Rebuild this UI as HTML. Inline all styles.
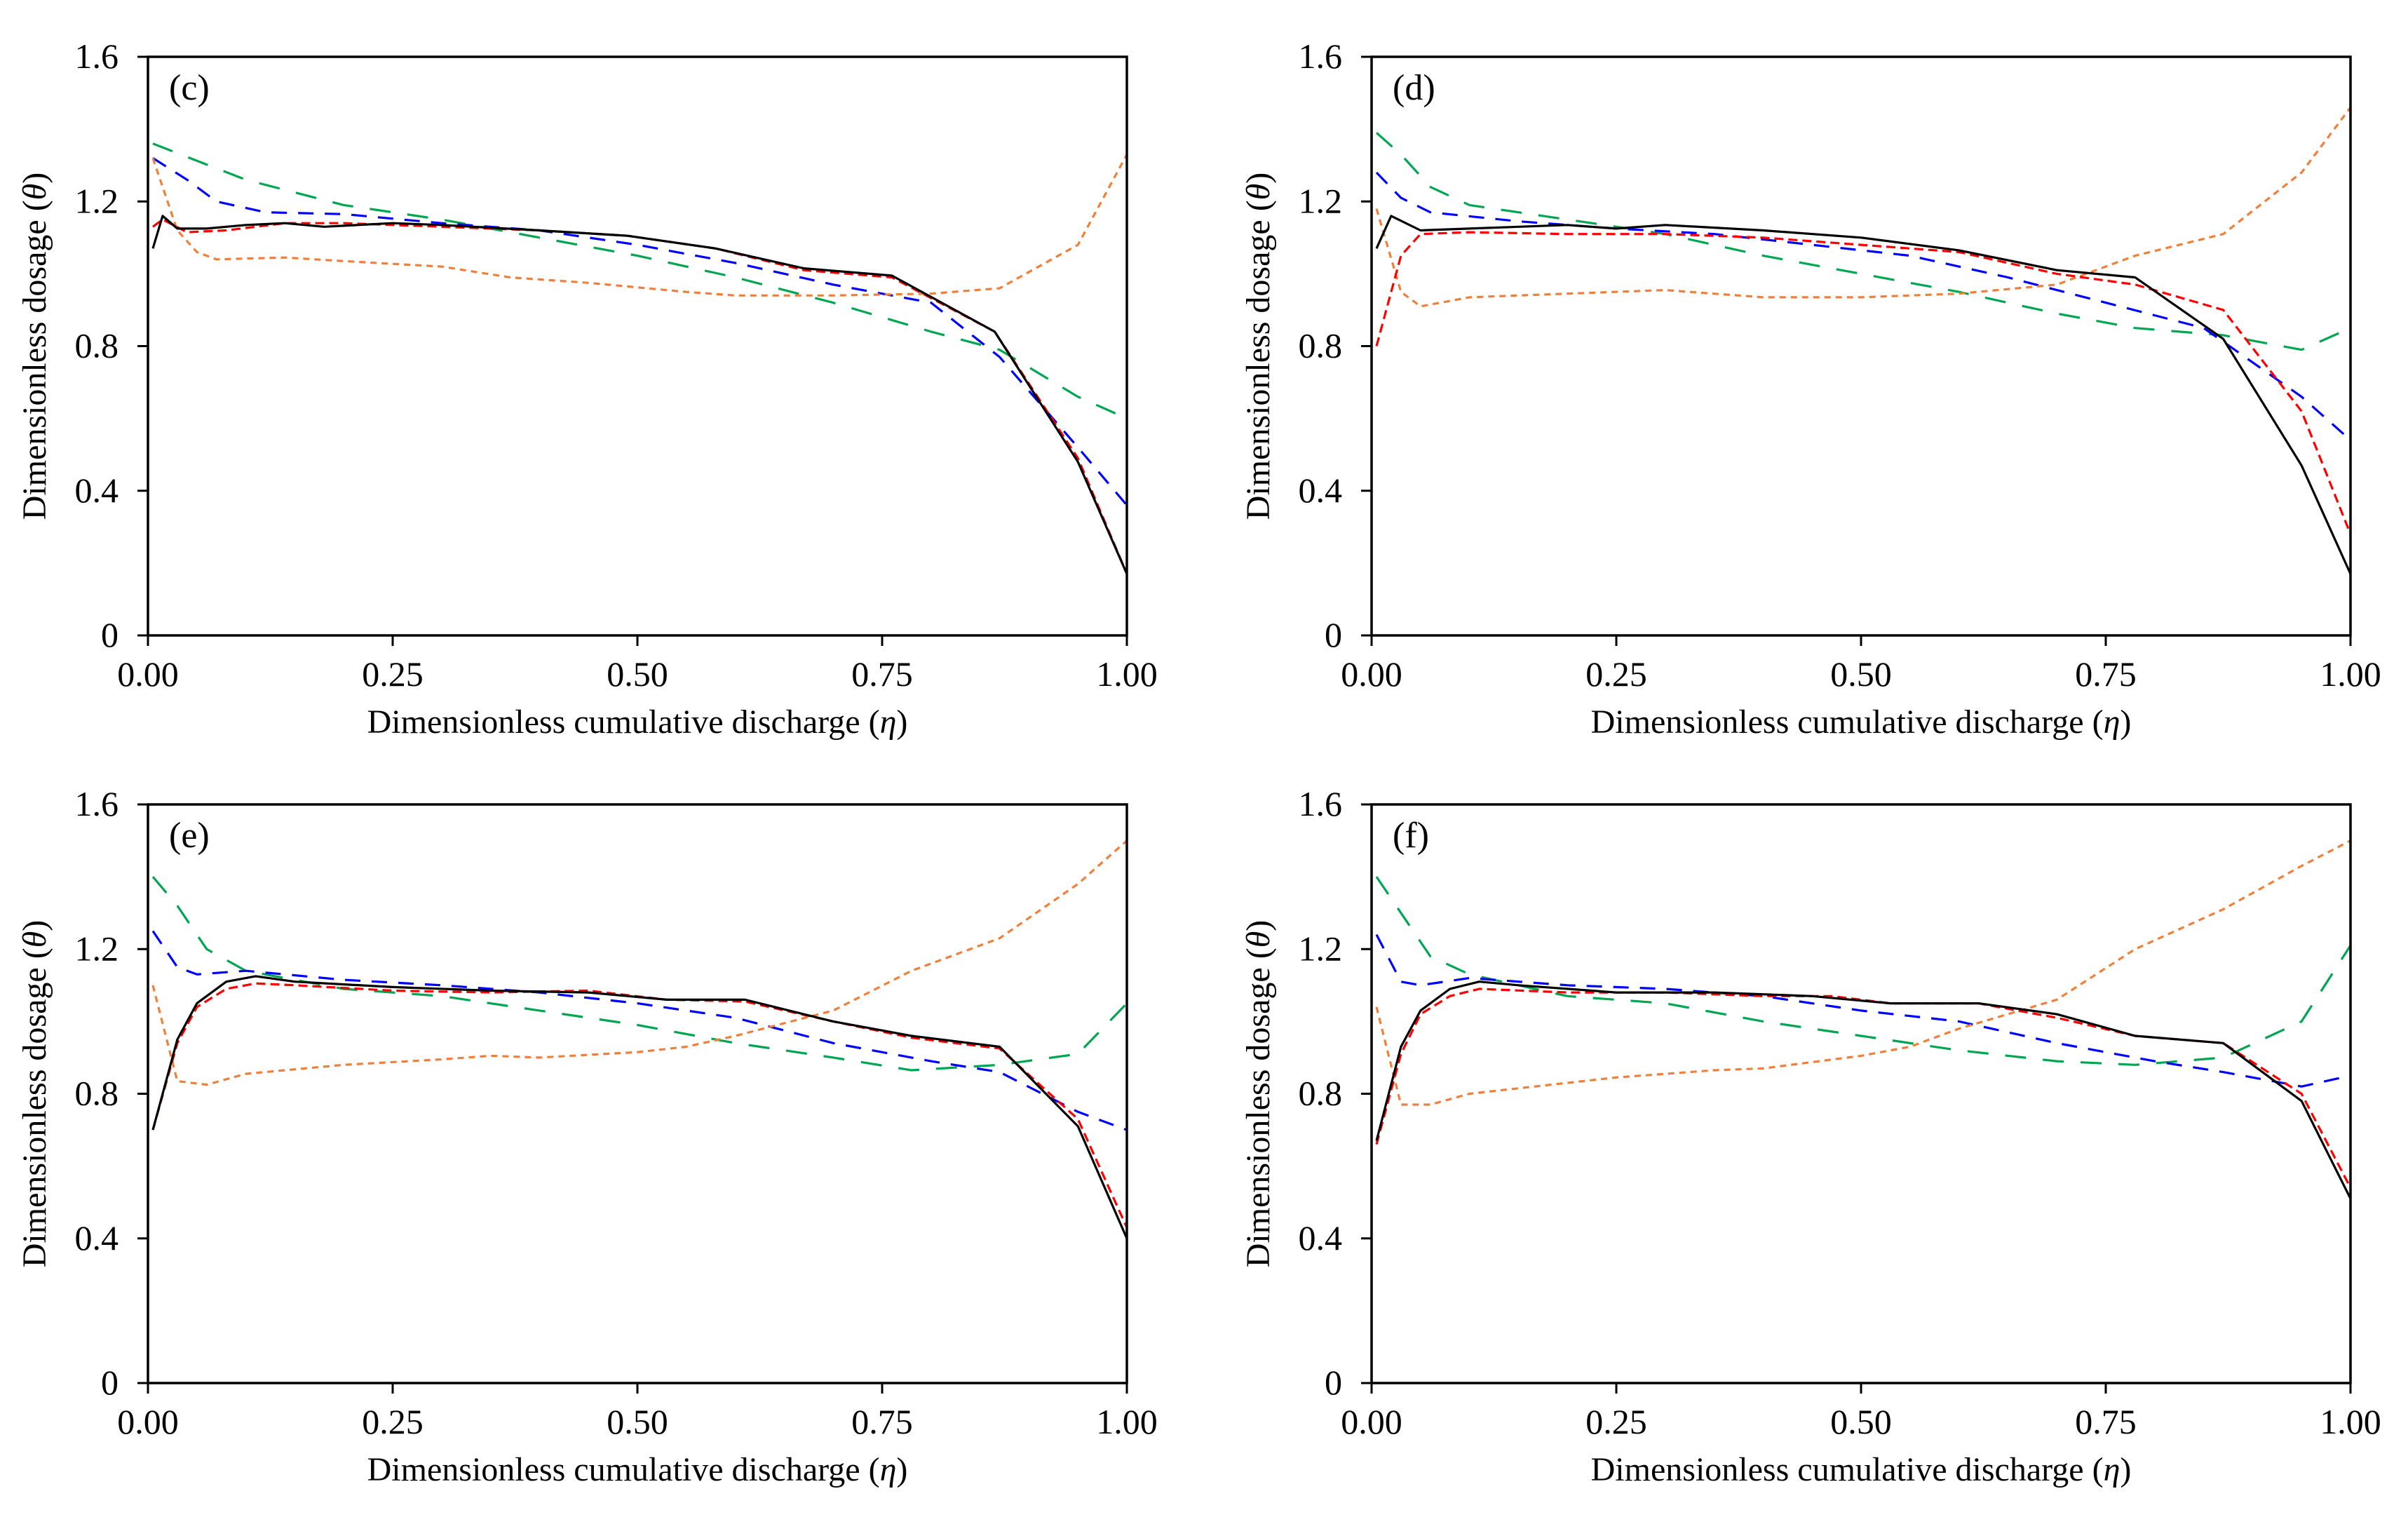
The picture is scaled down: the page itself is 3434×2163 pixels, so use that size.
<!DOCTYPE html>
<html><head><meta charset="utf-8"><style>
html,body{margin:0;padding:0;background:#fff}
svg{display:block}
text{font-family:"Liberation Serif",serif;fill:#000}
</style></head><body>
<svg id="chart" width="3434" height="2163" viewBox="0 0 3434 2163" xmlns="http://www.w3.org/2000/svg"></svg>
<script>
const xTicks=[0,0.25,0.5,0.75,1.0];
const xTickLabels=["0.00","0.25","0.50","0.75","1.00"];
const yTicks=[0,0.4,0.8,1.2,1.6];
const yTickLabels=["0","0.4","0.8","1.2","1.6"];
const panelLabels=["(c)","(d)","(e)","(f)"];
// panel c
const cBlack=[[0.005,1.07],[0.015,1.16],[0.03,1.125],[0.06,1.125],[0.10,1.135],[0.14,1.14],[0.18,1.13],[0.25,1.14],[0.30,1.135],[0.40,1.12],[0.49,1.105],[0.58,1.07],[0.67,1.015],[0.76,0.995],[0.865,0.84],[0.95,0.48],[1.0,0.17]];
const cRed=[[0.005,1.13],[0.015,1.15],[0.04,1.115],[0.08,1.12],[0.14,1.14],[0.20,1.14],[0.30,1.13],[0.40,1.12],[0.49,1.105],[0.58,1.07],[0.67,1.01],[0.76,0.99],[0.865,0.84],[0.95,0.49],[1.0,0.17]];
const cBlue=[[0.005,1.32],[0.04,1.26],[0.07,1.2],[0.12,1.17],[0.20,1.165],[0.30,1.14],[0.40,1.12],[0.50,1.08],[0.60,1.03],[0.70,0.97],[0.80,0.92],[0.87,0.77],[0.95,0.52],[1.0,0.36]];
const cGreen=[[0.005,1.36],[0.10,1.26],[0.20,1.19],[0.30,1.15],[0.40,1.10],[0.50,1.05],[0.60,0.99],[0.70,0.92],[0.80,0.84],[0.87,0.79],[0.95,0.66],[1.0,0.6]];
const cOrange=[[0.005,1.32],[0.03,1.12],[0.05,1.06],[0.07,1.04],[0.14,1.045],[0.20,1.035],[0.30,1.02],[0.37,0.99],[0.45,0.975],[0.55,0.95],[0.60,0.94],[0.70,0.94],[0.80,0.945],[0.87,0.96],[0.95,1.08],[1.0,1.33]];
// panel d
const dBlack=[[0.005,1.07],[0.02,1.16],[0.05,1.12],[0.10,1.125],[0.20,1.135],[0.25,1.125],[0.30,1.135],[0.40,1.12],[0.50,1.10],[0.60,1.065],[0.70,1.01],[0.78,0.99],[0.87,0.82],[0.95,0.47],[1.0,0.17]];
const dRed=[[0.005,0.80],[0.03,1.05],[0.05,1.11],[0.10,1.115],[0.20,1.11],[0.30,1.11],[0.40,1.10],[0.50,1.08],[0.60,1.06],[0.70,1.0],[0.78,0.97],[0.87,0.90],[0.95,0.62],[1.0,0.28]];
const dBlue=[[0.005,1.28],[0.03,1.21],[0.06,1.17],[0.15,1.145],[0.25,1.125],[0.35,1.11],[0.45,1.08],[0.55,1.05],[0.65,0.99],[0.75,0.92],[0.85,0.85],[0.95,0.66],[1.0,0.54]];
const dGreen=[[0.005,1.39],[0.03,1.33],[0.06,1.24],[0.10,1.19],[0.20,1.15],[0.30,1.11],[0.40,1.05],[0.50,1.00],[0.60,0.95],[0.70,0.89],[0.78,0.85],[0.87,0.83],[0.95,0.79],[1.0,0.85]];
const dOrange=[[0.005,1.18],[0.03,0.95],[0.05,0.91],[0.10,0.935],[0.20,0.945],[0.30,0.955],[0.40,0.935],[0.50,0.935],[0.60,0.945],[0.70,0.97],[0.78,1.05],[0.87,1.11],[0.95,1.28],[1.0,1.46]];
// panel e
const eBlack=[[0.005,0.70],[0.03,0.95],[0.05,1.05],[0.08,1.11],[0.11,1.125],[0.15,1.11],[0.25,1.095],[0.35,1.085],[0.45,1.08],[0.53,1.06],[0.61,1.06],[0.70,1.0],[0.78,0.96],[0.87,0.93],[0.95,0.71],[1.0,0.40]];
const eRed=[[0.005,0.70],[0.03,0.94],[0.05,1.04],[0.08,1.09],[0.11,1.105],[0.15,1.10],[0.25,1.085],[0.35,1.08],[0.45,1.085],[0.53,1.06],[0.61,1.055],[0.70,1.0],[0.78,0.955],[0.87,0.925],[0.95,0.73],[1.0,0.43]];
const eBlue=[[0.005,1.25],[0.03,1.15],[0.05,1.13],[0.10,1.14],[0.20,1.115],[0.30,1.10],[0.40,1.08],[0.50,1.05],[0.60,1.01],[0.70,0.94],[0.80,0.89],[0.87,0.86],[0.95,0.75],[1.0,0.70]];
const eGreen=[[0.005,1.40],[0.03,1.32],[0.06,1.20],[0.10,1.14],[0.20,1.09],[0.30,1.07],[0.40,1.03],[0.50,0.99],[0.60,0.94],[0.70,0.90],[0.78,0.865],[0.87,0.88],[0.95,0.91],[1.0,1.05]];
const eOrange=[[0.005,1.10],[0.03,0.835],[0.06,0.825],[0.10,0.855],[0.20,0.88],[0.30,0.895],[0.35,0.905],[0.40,0.90],[0.50,0.915],[0.55,0.93],[0.60,0.96],[0.70,1.03],[0.78,1.14],[0.87,1.23],[0.95,1.38],[1.0,1.50]];
// panel f
const fBlack=[[0.005,0.67],[0.03,0.93],[0.05,1.03],[0.08,1.09],[0.11,1.11],[0.15,1.10],[0.25,1.08],[0.35,1.08],[0.45,1.07],[0.53,1.05],[0.62,1.05],[0.70,1.02],[0.78,0.96],[0.87,0.94],[0.95,0.78],[1.0,0.51]];
const fRed=[[0.005,0.66],[0.03,0.91],[0.05,1.02],[0.08,1.07],[0.11,1.09],[0.20,1.08],[0.30,1.08],[0.40,1.07],[0.47,1.07],[0.53,1.05],[0.62,1.05],[0.70,1.01],[0.78,0.96],[0.87,0.94],[0.95,0.80],[1.0,0.54]];
const fBlue=[[0.005,1.24],[0.03,1.11],[0.05,1.10],[0.10,1.12],[0.20,1.10],[0.30,1.09],[0.40,1.07],[0.50,1.03],[0.60,1.00],[0.70,0.94],[0.80,0.89],[0.87,0.86],[0.95,0.82],[1.0,0.85]];
const fGreen=[[0.005,1.40],[0.03,1.30],[0.06,1.18],[0.10,1.13],[0.20,1.07],[0.30,1.05],[0.40,1.00],[0.50,0.96],[0.60,0.92],[0.70,0.89],[0.78,0.88],[0.87,0.90],[0.95,1.00],[1.0,1.21]];
const fOrange=[[0.005,1.04],[0.03,0.77],[0.06,0.77],[0.10,0.80],[0.20,0.83],[0.25,0.845],[0.35,0.865],[0.40,0.87],[0.50,0.905],[0.55,0.93],[0.60,0.98],[0.70,1.06],[0.78,1.20],[0.87,1.31],[0.95,1.43],[1.0,1.50]];

const panelSeries=[[cGreen,cBlue,cOrange,cRed,cBlack],[dGreen,dBlue,dOrange,dRed,dBlack],[eGreen,eBlue,eOrange,eRed,eBlack],[fGreen,fBlue,fOrange,fRed,fBlack]];
const styles=[
 {name:'green',color:'#00a651',dash:'30,24'},
 {name:'blue',color:'#0000ff',dash:'22,16'},
 {name:'orange',color:'#f07f3a',dash:'9,7'},
 {name:'red',color:'#ff0000',dash:'13,7'},
 {name:'black',color:'#000000',dash:''}];
const boxes=[{L:211,T:81},{L:1956,T:81},{L:211,T:1147},{L:1956,T:1147}];
const W=1396,H=825;
const NS='http://www.w3.org/2000/svg';
const svg=document.getElementById('chart');
function mk(tag,attrs,parent){const e=document.createElementNS(NS,tag);for(const k in attrs)e.setAttribute(k,attrs[k]);(parent||svg).appendChild(e);return e;}
panelSeries.forEach((series,pi)=>{
 const {L,T}=boxes[pi];
 const sx=v=>L+v*W, sy=v=>T+H-(v/1.6)*H;
 const g=mk('g',{});
 
 
 series.forEach((pts,si)=>{
  const st=styles[si];
  const p=mk('polyline',{points:pts.map(d=>sx(d[0]).toFixed(1)+','+sy(d[1]).toFixed(1)).join(' '),fill:'none',stroke:st.color,'stroke-width':3.2,'stroke-dasharray':st.dash,'stroke-linejoin':'round'},g);
  
  
 });
 const box=mk('rect',{x:L,y:T,width:W,height:H,fill:'none',stroke:'#000','stroke-width':3.5},g);
 
 
 xTicks.forEach((v,i)=>{
  const t=mk('line',{x1:sx(v),x2:sx(v),y1:T+H,y2:T+H+15,stroke:'#000','stroke-width':3},g);
  
  
  const tx=mk('text',{x:sx(v),y:T+H+72,'font-size':50,'text-anchor':'middle'},g);
  tx.textContent=xTickLabels[i];
  
  
 });
 yTicks.forEach((v,i)=>{
  const t=mk('line',{x1:L-15,x2:L,y1:sy(v),y2:sy(v),stroke:'#000','stroke-width':3},g);
  
  
  const tx=mk('text',{x:L-42,y:sy(v)+16,'font-size':50,'text-anchor':'end'},g);
  tx.textContent=yTickLabels[i];
  
  
 });
 const xt=mk('text',{x:L+W/2,y:T+H+139,'font-size':48,'text-anchor':'middle'},g);
 xt.innerHTML='Dimensionless cumulative discharge (<tspan font-style="italic">η</tspan>)';
 
 
 const cx=L-146, cy=T+H/2;
 const yt=mk('text',{x:cx,y:cy,'font-size':48,'text-anchor':'middle',transform:'rotate(-90 '+cx+' '+cy+')'},g);
 yt.innerHTML='Dimensionless dosage (<tspan font-style="italic">θ</tspan>)';
 
 
 const pl=mk('text',{x:L+30,y:T+61,'font-size':52},g);
 pl.textContent=panelLabels[pi];
 
 
});
</script>
</body></html>
